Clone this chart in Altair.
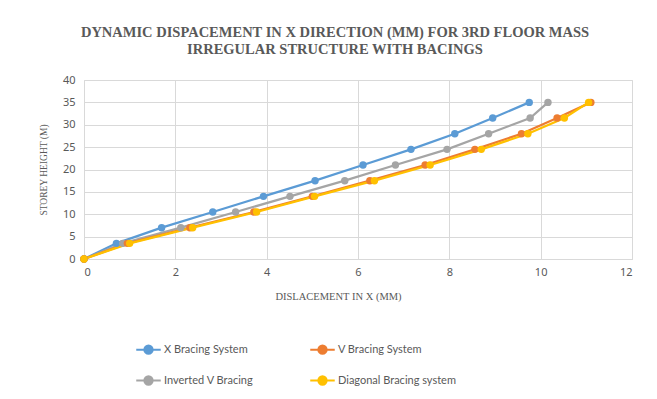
import altair as alt
import pandas as pd

# Storey heights (m) shared by all four bracing systems
heights = [0, 3.5, 7, 10.5, 14, 17.5, 21, 24.5, 28, 31.5, 35]

# Dynamic displacement in X (mm) at each storey level
x_bracing = [0, 0.71, 1.70, 2.82, 3.93, 5.06, 6.11, 7.16, 8.12, 8.95, 9.75]
v_bracing = [0, 0.95, 2.32, 3.72, 5.00, 6.26, 7.47, 8.56, 9.58, 10.36, 11.10]
inv_v_bracing = [0, 0.85, 2.12, 3.32, 4.51, 5.71, 6.82, 7.95, 8.86, 9.77, 10.16]
diag_bracing = [0, 1.00, 2.38, 3.78, 5.05, 6.36, 7.58, 8.70, 9.72, 10.52, 11.05]

# legend fills column by column: left column X / Inverted V, right column V / Diagonal
series_names = [
    "X Bracing System",
    "Inverted V Bracing",
    "V Bracing System",
    "Diagonal Bracing system",
]
series_values = [x_bracing, inv_v_bracing, v_bracing, diag_bracing]
series_colors = ["#5B9BD5", "#A5A5A5", "#ED7D31", "#FFC000"]

x_ticks = [0, 2, 4, 6, 8, 10, 12]
y_ticks = [0, 5, 10, 15, 20, 25, 30, 35, 40]

rows = []
for name, vals in zip(series_names, series_values):
    for h, d in zip(heights, vals):
        rows.append({"system": name, "disp": d, "height": h})
df = pd.DataFrame(rows)

grey = "#595959"
grid = "#D9D9D9"

# line with a dot in the middle, used as the legend key
line_dot = "M-1,0H1M-0.34,0A0.34,0.34,0,1,1,0.34,0A0.34,0.34,0,1,1,-0.34,0Z"

chart = (
    alt.Chart(df)
    .mark_line(strokeWidth=2.25, point=alt.OverlayMarkDef(filled=True, size=55))
    .encode(
        x=alt.X(
            "disp:Q",
            scale=alt.Scale(domain=[0, 12], nice=False),
            axis=alt.Axis(
                values=x_ticks,
                title="DISLACEMENT IN X (MM)",
                titleFont="Liberation Serif",
                titleFontSize=10.5,
                titleFontWeight="normal",
                titleColor=grey,
                titlePadding=14,
                titleX=254,
                labelFont="Noto Sans",
                labelFontSize=11,
                labelColor=grey,
                labelPadding=7,
                ticks=False,
                domainColor=grid,
                gridColor=grid,
            ),
        ),
        y=alt.Y(
            "height:Q",
            scale=alt.Scale(domain=[0, 40], nice=False),
            axis=alt.Axis(
                values=y_ticks,
                title="STOREY HEIGHT (M)",
                titleFont="Liberation Serif",
                titleFontSize=9.5,
                titleFontWeight="normal",
                titleColor=grey,
                titlePadding=14,
                labelFont="Noto Sans",
                labelFontSize=11,
                labelColor=grey,
                labelPadding=9,
                ticks=False,
                domain=False,
                gridColor=grid,
            ),
        ),
        color=alt.Color(
            "system:N",
            scale=alt.Scale(domain=series_names, range=series_colors),
            legend=alt.Legend(
                title=None,
                orient="none",
                legendX=51,
                legendY=256,
                columns=2,
                columnPadding=52,
                rowPadding=9,
                symbolType=line_dot,
                symbolSize=600,
                symbolStrokeWidth=2,
                labelFont="Lato",
                labelFontSize=11,
                labelColor=grey,
                labelOffset=2,
                labelLimit=300,
            ),
        ),
        order=alt.Order("height:Q"),
    )
    .properties(
        width=548,
        height=179,
        title=alt.TitleParams(
            text=[
                "DYNAMIC  DISPACEMENT IN X DIRECTION (MM) FOR 3RD FLOOR MASS",
                "IRREGULAR STRUCTURE  WITH BACINGS",
            ],
            font="Liberation Serif",
            fontSize=14.5,
            fontWeight="bold",
            color=grey,
            anchor="middle",
            dx=-23,
            offset=17,
            lineHeight=17,
        ),
        autosize=alt.AutoSizeParams(type="none"),
        padding={"left": 84, "top": 80, "right": 25, "bottom": 140},
    )
    .configure_view(stroke=None)
    .configure(background="white")
)

chart.save("out.html", embed_options={"renderer": "svg", "actions": False})
